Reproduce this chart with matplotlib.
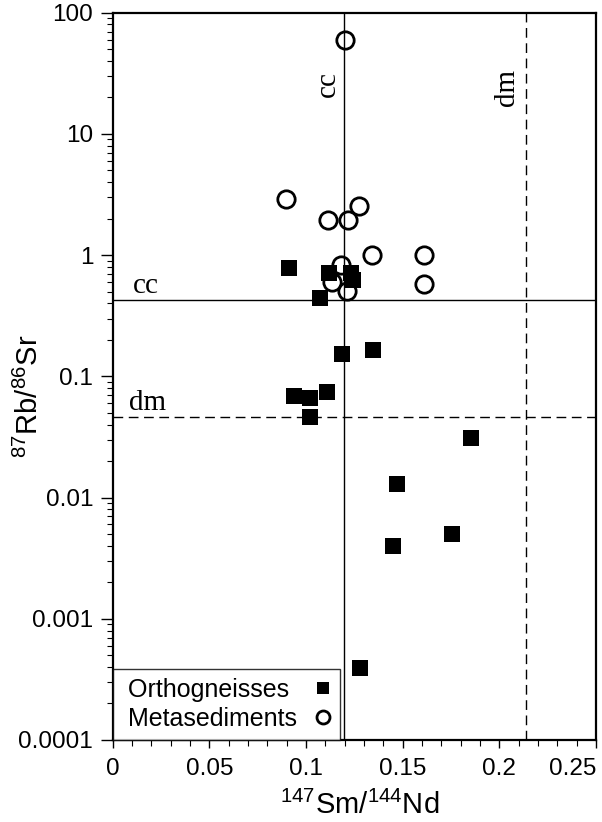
import matplotlib
matplotlib.use('Agg')
import matplotlib.pyplot as plt
from matplotlib.ticker import FixedLocator, NullFormatter

plt.rcParams['font.family'] = ['Liberation Sans', 'DejaVu Sans']
plt.rcParams['mathtext.fontset'] = 'custom'
plt.rcParams['mathtext.rm'] = 'Liberation Sans'

# Orthogneisses (filled squares)
ortho_sm_nd = [0.0914, 0.1121, 0.1231, 0.1241, 0.1072, 0.1185, 0.1345,
               0.0938, 0.1022, 0.1107, 0.1021, 0.1852, 0.1469, 0.1757,
               0.1448, 0.1280]
ortho_rb_sr = [0.78, 0.709, 0.709, 0.624, 0.441, 0.152, 0.165,
               0.0693, 0.0664, 0.0744, 0.046, 0.0308, 0.01295, 0.00501,
               0.00399, 0.000395]

# Metasediments (open circles)
meta_sm_nd = [0.1203, 0.0897, 0.1276, 0.1116, 0.1219, 0.1340, 0.1612,
              0.1180, 0.1133, 0.1610, 0.1210]
meta_rb_sr = [59.7, 2.91, 2.56, 1.95, 1.95, 1.0, 1.0,
              0.83, 0.604, 0.578, 0.507]

# reference reservoirs (continental crust, depleted mantle)
cc_sm_nd, dm_sm_nd = 0.1198, 0.2136
cc_rb_sr, dm_rb_sr = 0.425, 0.046

x_ticks = [0, 0.05, 0.1, 0.15, 0.2, 0.25]
x_labels = ['0', '0.05', '0.1', '0.15', '0.2', '0.25']
y_ticks = [0.0001, 0.001, 0.01, 0.1, 1, 10, 100]
y_labels = ['0.0001', '0.001', '0.01', '0.1', '1', '10', '100']

fig = plt.figure(figsize=(6.02, 8.22), dpi=100)
ax = fig.add_axes([0.1872, 0.0998, 0.8028, 0.8847])

ax.axvline(cc_sm_nd, color='black', lw=1.0, zorder=1)
ax.axvline(dm_sm_nd, color='black', lw=1.0, dashes=(7, 4), zorder=1)
ax.axhline(cc_rb_sr, color='black', lw=1.0, zorder=1)
ax.axhline(dm_rb_sr, color='black', lw=1.0, dashes=(7, 4), zorder=1)

ax.plot(ortho_sm_nd, ortho_rb_sr, 's', color='black', ms=12, mew=0,
        ls='none', label=' Orthogneisses', zorder=3)
ax.plot(meta_sm_nd, meta_rb_sr, 'o', mfc='none', mec='black', ms=12.5,
        mew=2.0, ls='none', label=' Metasediments', zorder=4)

serif = dict(family='Liberation Serif', fontsize=21, color='black')
ax.text(0.0105, 0.488, 'cc', ha='left', va='baseline', **serif)
ax.text(0.0084, 0.0528, 'dm', ha='left', va='baseline', **serif)
ax.text(0.1115, 25.9, 'cc', ha='center', va='center', rotation=90, **serif)
ax.text(0.2042, 24.2, 'dm', ha='center', va='center', rotation=90, **serif)

ax.set_yscale('log')
ax.set_xlim(0, 0.25)
ax.set_ylim(0.0001, 100)

ax.set_xticks(x_ticks)
ax.set_xticklabels(x_labels)
ax.set_xticks([i / 100 for i in range(26)], minor=True)
ax.get_xticklabels()[-1].set_ha('right')

ax.yaxis.set_major_locator(FixedLocator(y_ticks))
ax.set_yticklabels(y_labels)
minor = [m * 10.0 ** e for e in range(-4, 2) for m in range(2, 10)]
ax.yaxis.set_minor_locator(FixedLocator(minor))
ax.yaxis.set_minor_formatter(NullFormatter())

ax.tick_params(which='both', direction='out', top=False, right=False)
ax.tick_params(axis='y', which='major', length=9, width=1.0, pad=5,
               labelsize=17.5)
ax.tick_params(axis='y', which='minor', length=4.5, width=0.8)
ax.tick_params(axis='x', which='major', length=6, width=1.0, pad=7,
               labelsize=17.5)
ax.tick_params(axis='x', which='minor', length=4, width=0.8)

for s in ax.spines.values():
    s.set_linewidth(1.6)

ax.set_xlabel(r'$\mathregular{^{147}}$Sm/$\mathregular{^{144}}$Nd', fontsize=21)
ax.xaxis.set_label_coords(0.512, -0.070)
ax.set_ylabel(r'$\mathregular{^{87}}$Rb/$\mathregular{^{86}}$Sr', fontsize=21)
ax.yaxis.set_label_coords(-0.143, 0.473)

leg = ax.legend(loc='lower left', markerfirst=False, fontsize=18,
                frameon=True, fancybox=False, borderaxespad=0,
                handletextpad=0.68, handlelength=0.66, labelspacing=0.2,
                borderpad=0.35, markerscale=0.75)
leg.get_frame().set_edgecolor('black')
leg.get_frame().set_linewidth(1.0)

# left-align the legend texts while keeping the markers in one column
fig.canvas.draw()
renderer = fig.canvas.get_renderer()
cols = leg._legend_handle_box.get_children()
widths = [t.get_window_extent(renderer).width for t in leg.get_texts()]
wmax = max(widths)
for col in cols:
    col.align = 'left'
    for row, w in zip(col.get_children(), widths):
        row.sep += (wmax - w) * 72 / fig.dpi

plt.savefig('out.png', dpi=100)
plt.close()
